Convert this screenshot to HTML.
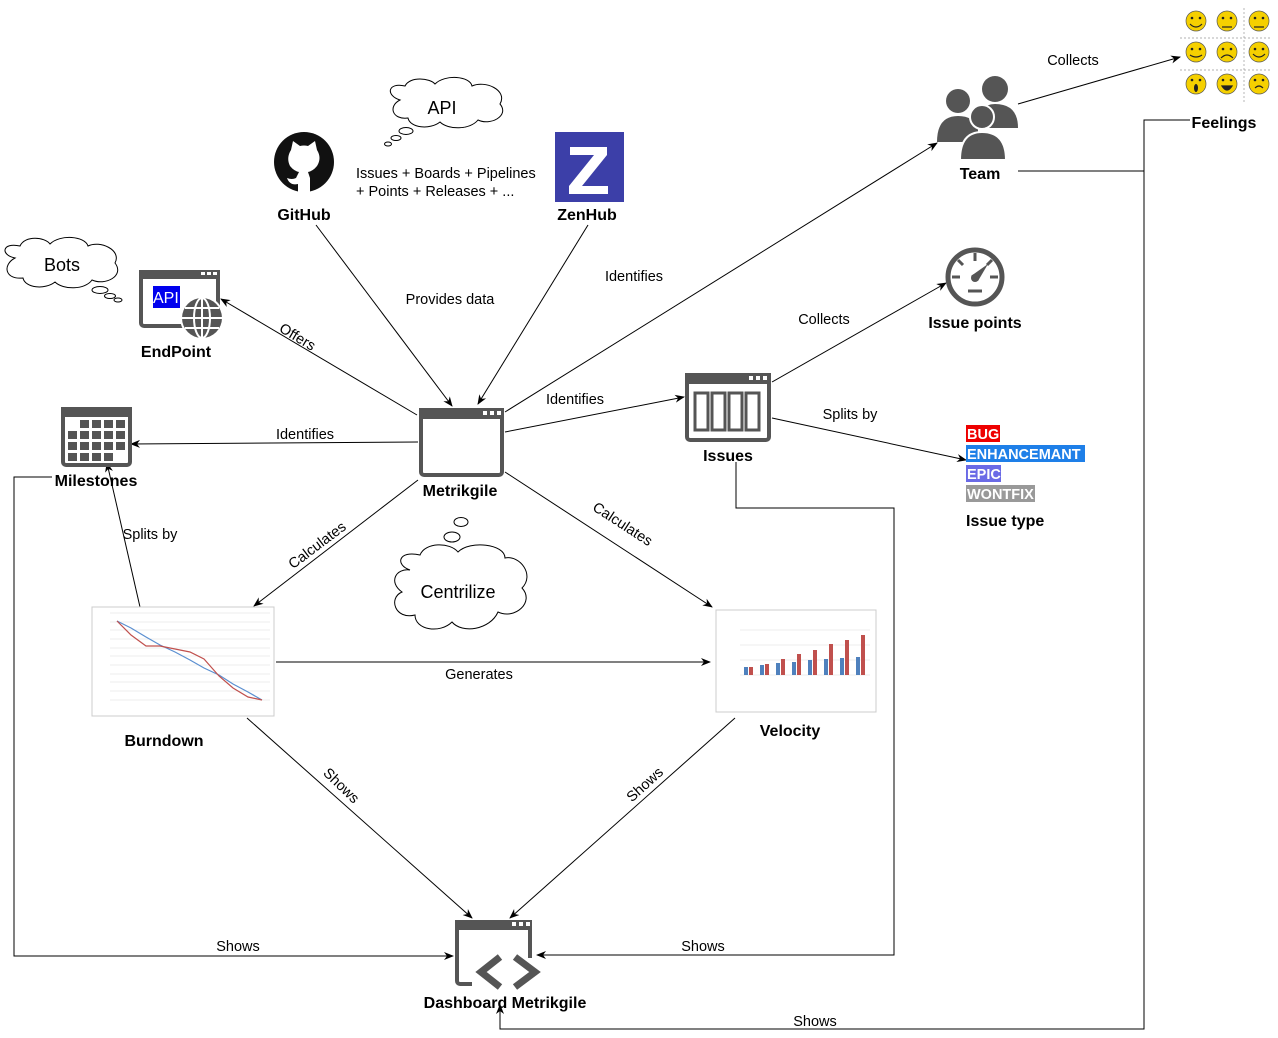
<!DOCTYPE html>
<html><head><meta charset="utf-8"><style>
html,body{margin:0;padding:0;background:#fff}
svg{display:block}
text{font-family:"Liberation Sans",Arial,sans-serif;font-size:14.5px;fill:#000}
.b{font-weight:bold;font-size:16px}
.l{stroke:#000;stroke-width:1;fill:none}
</style></head><body>
<svg width="1278" height="1038" viewBox="0 0 1278 1038" xmlns="http://www.w3.org/2000/svg">
<defs>
<marker id="a" markerWidth="10" markerHeight="10" refX="9" refY="5" orient="auto" markerUnits="userSpaceOnUse">
<path d="M0,1 L10,5 L0,9 L3,5 Z" fill="#000"/></marker>
</defs>

<rect x="457" y="922" width="73" height="62" rx="3" fill="#fff" stroke="#555" stroke-width="4"/>
<rect x="455" y="920" width="77" height="10" fill="#555"/>
<rect x="512" y="922" width="4" height="4" fill="#fff"/><rect x="519" y="922" width="4" height="4" fill="#fff"/><rect x="526" y="922" width="4" height="4" fill="#fff"/>
<rect x="472" y="958" width="72" height="34" fill="#fff"/>
<g fill="none" stroke="#555" stroke-width="7" stroke-linejoin="miter">
<polyline points="500,957 481,972 500,987"/>
<polyline points="515,957 535,972 515,987"/>
</g>

<g class="l">
<line x1="316" y1="225" x2="452" y2="406" marker-end="url(#a)"/>
<line x1="588" y1="225" x2="478" y2="404" marker-end="url(#a)"/>
<line x1="417" y1="415" x2="221" y2="299" marker-end="url(#a)"/>
<line x1="418" y1="442" x2="131" y2="444" marker-end="url(#a)"/>
<line x1="505" y1="412" x2="937" y2="143" marker-end="url(#a)"/>
<line x1="505" y1="432" x2="684" y2="397" marker-end="url(#a)"/>
<line x1="772" y1="382" x2="946" y2="283" marker-end="url(#a)"/>
<line x1="772" y1="418" x2="966" y2="460" marker-end="url(#a)"/>
<line x1="1018" y1="104" x2="1180" y2="57" marker-end="url(#a)"/>
<line x1="418" y1="480" x2="254" y2="606" marker-end="url(#a)"/>
<line x1="505" y1="472" x2="712" y2="607" marker-end="url(#a)"/>
<line x1="140" y1="607" x2="107" y2="463" marker-end="url(#a)"/>
<line x1="276" y1="662" x2="710" y2="662" marker-end="url(#a)"/>
<line x1="247" y1="718" x2="472" y2="918" marker-end="url(#a)"/>
<line x1="735" y1="718" x2="510" y2="918" marker-end="url(#a)"/>
<polyline points="52,477 14,477 14,956 453,956" marker-end="url(#a)"/>
<polyline points="736,462 736,508 894,508 894,955 537,955" marker-end="url(#a)"/>
<polyline points="1018,171 1144,171 1144,1029 500,1029 500,1005" marker-end="url(#a)"/>
<polyline points="1190,120 1144,120 1144,171"/>
</g>

<text x="450" y="304" text-anchor="middle">Provides data</text>
<text x="305" y="439" text-anchor="middle">Identifies</text>
<text x="634" y="281" text-anchor="middle">Identifies</text>
<text x="575" y="404" text-anchor="middle">Identifies</text>
<text x="824" y="324" text-anchor="middle">Collects</text>
<text x="850" y="419" text-anchor="middle">Splits by</text>
<text x="1073" y="65" text-anchor="middle">Collects</text>
<text x="150" y="539" text-anchor="middle">Splits by</text>
<text x="479" y="679" text-anchor="middle">Generates</text>
<text x="238" y="951" text-anchor="middle">Shows</text>
<text x="703" y="951" text-anchor="middle">Shows</text>
<text x="815" y="1026" text-anchor="middle">Shows</text>
<text transform="translate(295,341) rotate(31)" text-anchor="middle">Offers</text>
<text transform="translate(320,549) rotate(-37)" text-anchor="middle">Calculates</text>
<text transform="translate(620,528) rotate(33)" text-anchor="middle">Calculates</text>
<text transform="translate(338,789) rotate(44)" text-anchor="middle">Shows</text>
<text transform="translate(648,788) rotate(-42)" text-anchor="middle">Shows</text>
<text x="356" y="178">Issues + Boards + Pipelines</text>
<text x="356" y="196">+ Points + Releases + ...</text>

<g fill="#fff" stroke="#000" stroke-width="1">
<path d="M400,100 C385,95 388,82 405,86 C410,76 430,78 435,84 C445,74 470,76 472,86 C485,80 508,90 500,104 C510,116 490,126 478,120 C470,130 448,130 440,122 C430,130 410,128 408,118 C392,120 388,106 400,100 Z"/>
<ellipse cx="406" cy="131" rx="7" ry="3.5"/><ellipse cx="396" cy="138" rx="5" ry="2.5"/><ellipse cx="388" cy="144" rx="3.5" ry="2"/>
<path d="M15,258 C0,255 2,242 20,246 C25,235 45,237 50,244 C60,234 85,236 88,246 C100,240 122,250 115,263 C125,276 105,286 92,280 C85,290 63,290 55,282 C45,290 25,288 23,278 C5,280 2,265 15,258 Z"/>
<ellipse cx="100" cy="290" rx="8" ry="3.5"/><ellipse cx="110" cy="296" rx="5.5" ry="2.5"/><ellipse cx="118" cy="300" rx="4" ry="2"/>
<path d="M410,570 C395,565 398,550 420,555 C425,542 450,542 458,552 C470,540 505,544 505,558 C520,555 535,575 522,588 C535,602 515,620 498,612 C490,630 462,634 452,622 C440,634 415,630 415,615 C395,620 388,598 402,592 C388,582 396,568 410,570 Z"/>
<ellipse cx="452" cy="537" rx="8" ry="5"/><ellipse cx="461" cy="522" rx="7" ry="4.5"/>
</g>
<text x="442" y="114" text-anchor="middle" style="font-size:18px">API</text>
<text x="62" y="271" text-anchor="middle" style="font-size:18px">Bots</text>
<text x="458" y="598" text-anchor="middle" style="font-size:18px">Centrilize</text>

<circle cx="304" cy="162" r="30" fill="#111"/>
<path d="M291,150 L293,141 L300,146 Q304,145 308,146 L315,141 L317,150 Q322,158 317,166 Q313,171 308,172 L310,178 L310,192 L298,192 L298,184 Q290,186 287,178 Q292,180 296,178 L299,172 Q294,171 290,166 Q286,158 291,150 Z" fill="#fff"/>
<text x="304" y="220" text-anchor="middle" class="b">GitHub</text>

<rect x="555" y="132" width="69" height="70" fill="#3c3fa8"/>
<path d="M570,147 L607,147 L607,155 L582,186 L608,186 L608,194 L569,194 L569,186 L594,155 L570,155 Z" fill="#fff"/>
<text x="587" y="220" text-anchor="middle" class="b">ZenHub</text>

<rect x="141" y="272" width="77" height="54" rx="3" fill="#fff" stroke="#555" stroke-width="4"/>
<rect x="139" y="270" width="81" height="9" fill="#555"/>
<rect x="201" y="272" width="4" height="3" fill="#fff"/><rect x="207" y="272" width="4" height="3" fill="#fff"/><rect x="213" y="272" width="4" height="3" fill="#fff"/>
<rect x="153" y="286" width="27" height="22" fill="#0000ee"/>
<text x="153" y="303" style="font-size:16px;fill:#fff">API</text>
<circle cx="202" cy="318" r="22" fill="#fff"/>
<circle cx="202" cy="318" r="20" fill="#555"/>
<g stroke="#fff" stroke-width="2" fill="none">
<ellipse cx="202" cy="318" rx="8" ry="20"/><line x1="202" y1="298" x2="202" y2="338"/>
<line x1="182" y1="318" x2="222" y2="318"/><line x1="185" y1="308" x2="219" y2="308"/><line x1="185" y1="328" x2="219" y2="328"/>
</g>
<text x="176" y="357" text-anchor="middle" class="b">EndPoint</text>

<rect x="63" y="409" width="67" height="56" rx="3" fill="#fff" stroke="#555" stroke-width="4"/>
<rect x="61" y="407" width="71" height="10" fill="#555"/>
<g fill="#555">
<rect x="80" y="420" width="9" height="8"/><rect x="92" y="420" width="9" height="8"/><rect x="104" y="420" width="9" height="8"/><rect x="116" y="420" width="9" height="8"/>
<rect x="68" y="431" width="9" height="8"/><rect x="80" y="431" width="9" height="8"/><rect x="92" y="431" width="9" height="8"/><rect x="104" y="431" width="9" height="8"/><rect x="116" y="431" width="9" height="8"/>
<rect x="68" y="442" width="9" height="8"/><rect x="80" y="442" width="9" height="8"/><rect x="92" y="442" width="9" height="8"/><rect x="104" y="442" width="9" height="8"/><rect x="116" y="442" width="9" height="8"/>
<rect x="68" y="453" width="9" height="8"/><rect x="80" y="453" width="9" height="8"/><rect x="92" y="453" width="9" height="8"/><rect x="104" y="453" width="9" height="8"/>
</g>
<text x="96" y="486" text-anchor="middle" class="b">Milestones</text>

<rect x="421" y="410" width="81" height="65" rx="3" fill="#fff" stroke="#555" stroke-width="4"/>
<rect x="419" y="408" width="85" height="11" fill="#555"/>
<rect x="483" y="411" width="4" height="4" fill="#fff"/><rect x="490" y="411" width="4" height="4" fill="#fff"/><rect x="497" y="411" width="4" height="4" fill="#fff"/>
<text x="460" y="496" text-anchor="middle" class="b">Metrikgile</text>

<rect x="687" y="375" width="82" height="65" rx="3" fill="#fff" stroke="#555" stroke-width="4"/>
<rect x="685" y="373" width="86" height="11" fill="#555"/>
<rect x="749" y="376" width="4" height="4" fill="#fff"/><rect x="756" y="376" width="4" height="4" fill="#fff"/><rect x="763" y="376" width="4" height="4" fill="#fff"/>
<g fill="none" stroke="#555" stroke-width="3">
<rect x="695" y="393" width="13" height="37"/><rect x="712" y="393" width="13" height="37"/><rect x="729" y="393" width="13" height="37"/><rect x="746" y="393" width="13" height="37"/>
</g>
<text x="728" y="461" text-anchor="middle" class="b">Issues</text>

<circle cx="975" cy="277" r="27" fill="none" stroke="#555" stroke-width="5"/>
<g stroke="#555" stroke-width="3">
<line x1="975" y1="253" x2="975" y2="261"/><line x1="952" y1="277" x2="960" y2="277"/><line x1="990" y1="277" x2="998" y2="277"/>
<line x1="958" y1="260" x2="963" y2="265"/><line x1="992" y1="260" x2="987" y2="265"/><line x1="968" y1="291" x2="982" y2="291"/>
</g>
<path d="M971,276 L988,264 L978,281 Z" fill="#555"/><circle cx="975" cy="278" r="4" fill="#555"/>
<text x="975" y="328" text-anchor="middle" class="b">Issue points</text>

<g fill="#555">
<circle cx="958" cy="101" r="12"/><path d="M937,142 Q937,116 958,116 Q975,116 978,130 L978,142 Z"/>
<circle cx="995" cy="89" r="13"/><path d="M976,128 Q978,104 995,104 Q1018,104 1018,128 Z"/>
<circle cx="982" cy="117" r="12" stroke="#fff" stroke-width="2"/><path d="M960,160 Q960,132 982,132 Q1006,132 1006,160 Z" stroke="#fff" stroke-width="2"/>
</g>
<text x="980" y="179" text-anchor="middle" class="b">Team</text>

<g stroke="#999" stroke-width="0.7" stroke-dasharray="2,2">
<line x1="1244" y1="8" x2="1244" y2="102"/><line x1="1180" y1="38" x2="1272" y2="38"/><line x1="1180" y1="70" x2="1272" y2="70"/>
</g>
<g fill="#f5d000" stroke="#555" stroke-width="0.7">
<circle cx="1196" cy="21" r="10"/><circle cx="1227" cy="21" r="10"/><circle cx="1259" cy="21" r="10"/>
<circle cx="1196" cy="52" r="10"/><circle cx="1227" cy="52" r="10"/><circle cx="1259" cy="52" r="10"/>
<circle cx="1196" cy="84" r="10"/><circle cx="1227" cy="84" r="10"/><circle cx="1259" cy="84" r="10"/>
</g>
<g stroke="#222" stroke-width="1.2" fill="none">
<path d="M1190,24 Q1196,30 1202,24"/><path d="M1222,27 L1232,27"/><path d="M1254,27 L1264,27"/>
<path d="M1190,55 Q1196,59 1202,55"/><path d="M1221,58 Q1227,52 1233,58"/><path d="M1253,54 Q1259,60 1265,54"/>
<path d="M1222,86 Q1227,94 1232,86 Z" fill="#222"/><path d="M1255,88 Q1259,84 1263,88"/>
</g>
<ellipse cx="1196" cy="88" rx="2" ry="4" fill="#222"/>
<g fill="#222">
<circle cx="1192" cy="18" r="1.3"/><circle cx="1200" cy="18" r="1.3"/><circle cx="1223" cy="18" r="1.3"/><circle cx="1231" cy="18" r="1.3"/><circle cx="1255" cy="18" r="1.3"/><circle cx="1263" cy="18" r="1.3"/>
<circle cx="1192" cy="49" r="1.3"/><circle cx="1200" cy="49" r="1.3"/><circle cx="1223" cy="49" r="1.3"/><circle cx="1231" cy="49" r="1.3"/><circle cx="1255" cy="49" r="1.3"/><circle cx="1263" cy="49" r="1.3"/>
<circle cx="1192" cy="80" r="1.3"/><circle cx="1200" cy="80" r="1.3"/><circle cx="1223" cy="80" r="1.3"/><circle cx="1231" cy="80" r="1.3"/><circle cx="1255" cy="80" r="1.3"/><circle cx="1263" cy="80" r="1.3"/>
</g>
<text x="1224" y="128" text-anchor="middle" class="b">Feelings</text>

<rect x="966" y="425" width="34" height="17" fill="#ee0000"/><text x="967" y="439" style="font-weight:bold;fill:#fff">BUG</text>
<rect x="966" y="445" width="119" height="17" fill="#1e7fe8"/><text x="967" y="459" style="font-weight:bold;fill:#fff">ENHANCEMANT</text>
<rect x="966" y="465" width="35" height="17" fill="#6a6ae6"/><text x="967" y="479" style="font-weight:bold;fill:#fff">EPIC</text>
<rect x="966" y="485" width="69" height="17" fill="#999"/><text x="967" y="499" style="font-weight:bold;fill:#fff">WONTFIX</text>
<text x="966" y="526" class="b">Issue type</text>

<rect x="92" y="607" width="182" height="109" fill="#fff" stroke="#ccc"/>
<g stroke="#ddd" stroke-width="0.6">
<line x1="110" y1="613" x2="270" y2="613"/><line x1="110" y1="622" x2="270" y2="622"/><line x1="110" y1="630" x2="270" y2="630"/><line x1="110" y1="639" x2="270" y2="639"/><line x1="110" y1="648" x2="270" y2="648"/><line x1="110" y1="656" x2="270" y2="656"/><line x1="110" y1="665" x2="270" y2="665"/><line x1="110" y1="674" x2="270" y2="674"/><line x1="110" y1="682" x2="270" y2="682"/><line x1="110" y1="691" x2="270" y2="691"/><line x1="110" y1="700" x2="270" y2="700"/>
</g>
<polyline points="117,621 131,628 146,637 160,645 175,652 190,660 204,668 219,675 233,684 248,692 262,700" fill="none" stroke="#5b8fd0" stroke-width="1.2"/>
<polyline points="117,621 131,635 146,646 160,646 175,649 190,652 204,659 219,676 233,688 248,697 262,700" fill="none" stroke="#c0504d" stroke-width="1.2"/>
<text x="164" y="746" text-anchor="middle" class="b">Burndown</text>

<rect x="716" y="610" width="160" height="102" fill="#fff" stroke="#ccc"/>
<g stroke="#ddd" stroke-width="0.6"><line x1="740" y1="630" x2="870" y2="630"/><line x1="740" y1="645" x2="870" y2="645"/><line x1="740" y1="660" x2="870" y2="660"/><line x1="740" y1="675" x2="870" y2="675"/></g>
<g fill="#4f81bd">
<rect x="744" y="667" width="4" height="8"/><rect x="760" y="665" width="4" height="10"/><rect x="776" y="663" width="4" height="12"/><rect x="792" y="662" width="4" height="13"/><rect x="808" y="660" width="4" height="15"/><rect x="824" y="659" width="4" height="16"/><rect x="840" y="658" width="4" height="17"/><rect x="856" y="657" width="4" height="18"/>
</g>
<g fill="#c0504d">
<rect x="749" y="667" width="4" height="8"/><rect x="765" y="664" width="4" height="11"/><rect x="781" y="659" width="4" height="16"/><rect x="797" y="654" width="4" height="21"/><rect x="813" y="650" width="4" height="25"/><rect x="829" y="644" width="4" height="31"/><rect x="845" y="640" width="4" height="35"/><rect x="861" y="635" width="4" height="40"/>
</g>
<text x="790" y="736" text-anchor="middle" class="b">Velocity</text>

<text x="505" y="1008" text-anchor="middle" class="b">Dashboard Metrikgile</text>
</svg>
</body></html>
